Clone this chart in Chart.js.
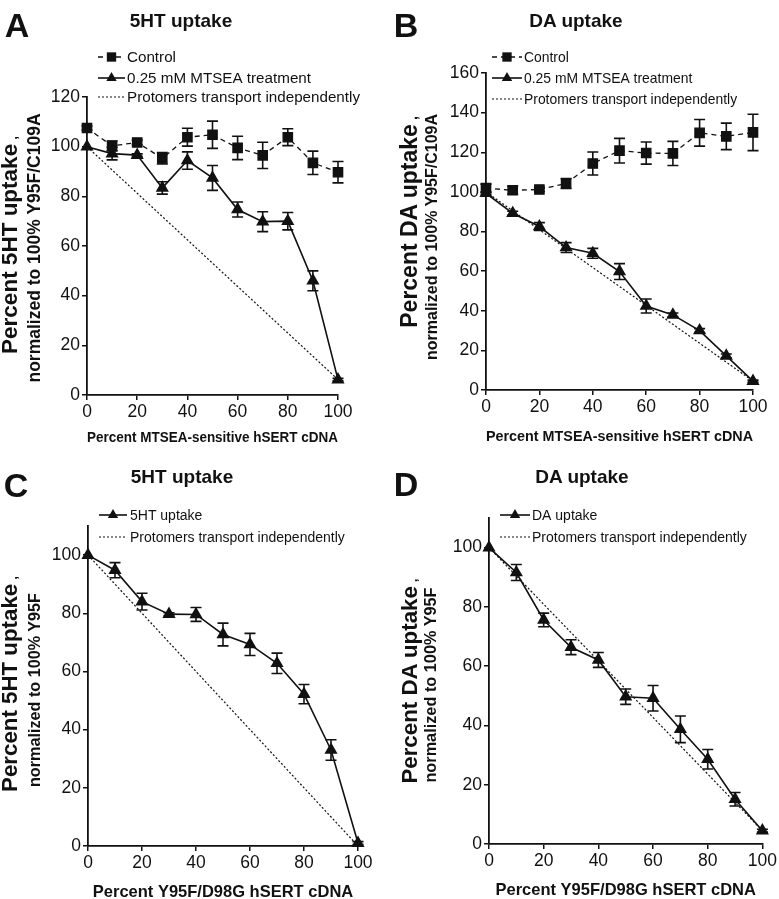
<!DOCTYPE html>
<html lang="en">
<head>
<meta charset="utf-8">
<script src="https://cdn.jsdelivr.net/npm/chart.js@4/dist/chart.umd.min.js"></script>
<style>
  body { margin: 0; background: #fff; }
  #fig { position: relative; width: 779px; height: 899px; overflow: hidden; font-family: "Liberation Sans", Arial, sans-serif; color: #111; }
  #fig canvas { position: absolute; }
  .txt { position: absolute; white-space: nowrap; font-weight: bold; line-height: 1; transform: translate(-50%, -50%); }
  .letter { font-size: 34px; }
  .title { font-size: 19px; }
  .rot { position: absolute; white-space: nowrap; font-weight: bold; line-height: 1; transform: translate(-50%, -50%) rotate(-90deg); }
  .rot small { font-size: 60%; margin-left: 4px; }
</style>
</head>
<body>
<div id="fig">
  <canvas id="chartA" width="390" height="450" style="left:0;top:0"></canvas>
  <canvas id="chartB" width="389" height="450" style="left:390px;top:0"></canvas>
  <canvas id="chartC" width="390" height="470" style="left:0;top:440px"></canvas>
  <canvas id="chartD" width="389" height="470" style="left:390px;top:440px"></canvas>

  <div class="txt letter" style="left:17px;top:25px">A</div>
  <div class="txt letter" style="left:406px;top:25px">B</div>
  <div class="txt letter" style="left:16px;top:485px">C</div>
  <div class="txt letter" style="left:406px;top:484px">D</div>

  <div class="txt title" style="left:181px;top:20px">5HT uptake</div>
  <div class="txt title" style="left:576px;top:20px">DA uptake</div>
  <div class="txt title" style="left:182px;top:476px">5HT uptake</div>
  <div class="txt title" style="left:582px;top:476px">DA uptake</div>

  <div class="rot" style="left:10px;top:245px;font-size:22.5px">Percent 5HT uptake<small>,</small></div>
  <div class="rot" style="left:35px;top:248px;font-size:17.5px">normalized to 100% Y95F/C109A</div>
  <div class="rot" style="left:409px;top:222px;font-size:23px">Percent DA uptake<small>,</small></div>
  <div class="rot" style="left:432px;top:237px;font-size:16px">normalized to 100% Y95F/C109A</div>
  <div class="rot" style="left:10px;top:684px;font-size:22.3px">Percent 5HT uptake<small>,</small></div>
  <div class="rot" style="left:34px;top:690px;font-size:16.2px">normalized to 100% Y95F</div>
  <div class="rot" style="left:410px;top:681px;font-size:22.3px">Percent DA uptake<small>,</small></div>
  <div class="rot" style="left:430px;top:685px;font-size:16.3px">normalized to 100% Y95F</div>
</div>

<script>
// x values shared by every panel (percent of mutant cDNA)
const pct = [0, 10, 20, 30, 40, 50, 60, 70, 80, 90, 100];
const ends = [0, 100];

// A: 5HT uptake, MTSEA
const aControl = [107.5, 100.3, 101.7, 95.3, 103.8, 104.8, 99.5, 96.5, 103.8, 93.5, 89.7];
const aControlErr = [0.8, 2, 1, 2.3, 3.6, 5.5, 4.7, 5.3, 3.4, 4.7, 4.3];
const aMtsea = [100, 97.2, 96.6, 83.4, 94.4, 87.4, 74.7, 69.8, 70, 46, 6.2];
const aMtseaErr = [0, 2.5, 0.5, 2.5, 3.5, 5, 3, 4, 3.5, 4, 0.5];
const aIndep = [100, 6.2];

// B: DA uptake, MTSEA
const bControl = [101.9, 100.8, 101.2, 104.2, 114.3, 120.8, 119.6, 119.4, 129.8, 128, 130];
const bControlErr = [2, 2, 1, 2.5, 5.8, 6.2, 5.6, 6.1, 6.7, 6.7, 9.2];
const bMtsea = [99.3, 89.2, 82.5, 71.9, 69, 59.8, 42.4, 37.9, 30, 17.2, 4.5];
const bMtseaErr = [0.5, 1, 2, 2.5, 2.5, 4, 3.5, 1, 1, 1, 0.5];
const bIndep = [100, 4.5];

// C: 5HT uptake, Y95F/D98G
const cUptake = [100, 94.8, 84, 79.7, 79.6, 72.7, 69.3, 62.8, 52.2, 33, 1];
const cErr = [0, 2.6, 2.9, 0.5, 2.4, 3.9, 3.8, 3.5, 3.3, 3.5, 0.5];
const cIndep = [100, 0];

// D: DA uptake, Y95F/D98G
const dUptake = [100, 91.6, 75.6, 66.4, 62.1, 49.7, 49.2, 38.7, 28.6, 15.1, 4.5];
const dErr = [0, 2.7, 2.3, 2.5, 2.5, 2.6, 4.3, 4.5, 3.3, 2.3, 0.5];
const dIndep = [100, 4.5];

const yTicksAB = { A: 120, B: 160 };
const FONT = '"Liberation Sans", Arial, sans-serif';
const INK = '#111';

function pts(xs, ys) { return ys.map((v, i) => ({ x: xs[i], y: v })); }

function controlSet(label, ys, err) {
  return { label, data: pts(pct, ys), errors: err, borderColor: INK, borderWidth: 1.3,
    borderDash: [5, 4], pointStyle: 'rect', pointRadius: 6.6, pointBackgroundColor: INK,
    pointBorderColor: INK, clip: false };
}
function triSet(label, ys, err) {
  return { label, data: pts(pct, ys), errors: err, borderColor: INK, borderWidth: 1.6,
    pointStyle: 'triangle', pointRadius: 6, pointBackgroundColor: INK,
    pointBorderColor: INK, clip: false };
}
function indepSet(ys) {
  return { label: 'Protomers transport independently', data: pts(ends, ys), borderColor: INK,
    borderWidth: 1.2, borderDash: [2, 2], pointRadius: 0, clip: false };
}

// error bars with caps
const errorBars = {
  id: 'errorBars',
  beforeDatasetsDraw(chart) {
    const { ctx, scales: { y } } = chart;
    ctx.save();
    ctx.strokeStyle = INK;
    ctx.lineWidth = 1.6;
    chart.data.datasets.forEach((ds, di) => {
      if (!ds.errors) return;
      chart.getDatasetMeta(di).data.forEach((p, i) => {
        const e = ds.errors[i];
        if (!e) return;
        const v = ds.data[i].y;
        const t = y.getPixelForValue(v + e), b = y.getPixelForValue(v - e);
        ctx.beginPath();
        ctx.moveTo(p.x, t); ctx.lineTo(p.x, b);
        ctx.moveTo(p.x - 5.5, t); ctx.lineTo(p.x + 5.5, t);
        ctx.moveTo(p.x - 5.5, b); ctx.lineTo(p.x + 5.5, b);
        ctx.stroke();
      });
    });
    ctx.restore();
  }
};

// legend drawn as line sample + marker, like the original figure
const lineLegend = {
  id: 'lineLegend',
  afterDraw(chart, args, o) {
    const { ctx } = chart;
    ctx.save();
    ctx.font = o.size + 'px ' + FONT;
    ctx.textBaseline = 'middle';
    chart.data.datasets.forEach((ds, i) => {
      const y = o.rows[i];
      ctx.strokeStyle = INK;
      ctx.lineWidth = ds.borderWidth;
      ctx.setLineDash(ds.borderDash || []);
      ctx.beginPath();
      ctx.moveTo(o.x0, y); ctx.lineTo(o.x1, y);
      ctx.stroke();
      ctx.setLineDash([]);
      const cx = (o.x0 + o.x1) / 2;
      ctx.fillStyle = INK;
      if (ds.pointStyle === 'rect') {
        const s = ds.pointRadius * Math.SQRT1_2;
        ctx.fillRect(cx - s, y - s, 2 * s, 2 * s);
      } else if (ds.pointStyle === 'triangle') {
        const r = ds.pointRadius;
        ctx.beginPath();
        ctx.moveTo(cx, y - r);
        ctx.lineTo(cx + r * 0.866, y + r / 2);
        ctx.lineTo(cx - r * 0.866, y + r / 2);
        ctx.closePath();
        ctx.fill();
      }
      ctx.fillStyle = INK;
      ctx.fillText(ds.label, o.tx, y + 1);
    });
    ctx.restore();
  }
};

function panel(id, datasets, p) {
  const axisLine = { color: INK, width: 1.8 };
  const grid = { drawOnChartArea: false, color: INK, lineWidth: 1.5, tickLength: 5 };
  new Chart(document.getElementById(id), {
    type: 'line',
    data: { datasets },
    options: {
      responsive: false,
      animation: false,
      events: [],
      layout: { padding: { left: 0, top: p.top, right: p.right, bottom: 0 } },
      scales: {
        x: {
          type: 'linear', min: 0, max: 100,
          ticks: { stepSize: 20, color: INK, font: { family: FONT, size: 17.5 }, padding: 2, maxRotation: 0 },
          grid, border: axisLine,
          title: { display: true, text: p.xTitle, color: INK,
            font: { family: FONT, size: p.xTitleSize, weight: 'bold' }, padding: { top: 0, bottom: p.xTitlePad } },
          afterFit: s => { s.height = p.xHeight; }
        },
        y: {
          type: 'linear', min: 0, max: p.yMax,
          ticks: { stepSize: 20, color: INK, font: { family: FONT, size: 17.5 }, padding: 2 },
          afterBuildTicks: s => { s.ticks = s.ticks.filter(t => t.value % 20 === 0); },
          grid, border: axisLine,
          afterFit: s => { s.width = p.yWidth; }
        }
      },
      plugins: {
        legend: { display: false },
        tooltip: { enabled: false },
        lineLegend: p.legend
      }
    },
    plugins: [errorBars, lineLegend]
  });
}

panel('chartA', [
  controlSet('Control', aControl, aControlErr),
  triSet('0.25 mM MTSEA treatment', aMtsea, aMtseaErr),
  indepSet(aIndep)
], { top: 97, right: 52, yWidth: 87, xHeight: 55, yMax: yTicksAB.A,
     xTitle: 'Percent MTSEA-sensitive hSERT cDNA', xTitleSize: 15.5, xTitlePad: 3,
     legend: { rows: [57, 78, 97], x0: 98, x1: 125, tx: 127, size: 15.2 } });

panel('chartB', [
  controlSet('Control', bControl, bControlErr),
  triSet('0.25 mM MTSEA treatment', bMtsea, bMtseaErr),
  indepSet(bIndep)
], { top: 73, right: 26, yWidth: 96, xHeight: 60, yMax: yTicksAB.B,
     xTitle: 'Percent MTSEA-sensitive hSERT cDNA', xTitleSize: 15.5, xTitlePad: 4,
     legend: { rows: [57, 78, 99], x0: 102, x1: 132, tx: 134, size: 13.9 } });

panel('chartC', [
  triSet('5HT uptake', cUptake, cErr),
  indepSet(cIndep)
], { top: 86, right: 32, yWidth: 88, xHeight: 64, yMax: 110,
     xTitle: 'Percent Y95F/D98G hSERT cDNA', xTitleSize: 16.5, xTitlePad: 8,
     legend: { rows: [75, 97], x0: 99, x1: 127, tx: 130, size: 14 } });

panel('chartD', [
  triSet('DA uptake', dUptake, dErr),
  indepSet(dIndep)
], { top: 78, right: 16, yWidth: 99, xHeight: 66, yMax: 110,
     xTitle: 'Percent Y95F/D98G hSERT cDNA', xTitleSize: 16.5, xTitlePad: 10,
     legend: { rows: [75, 97], x0: 110, x1: 140, tx: 142, size: 14 } });
</script>
</body>
</html>
